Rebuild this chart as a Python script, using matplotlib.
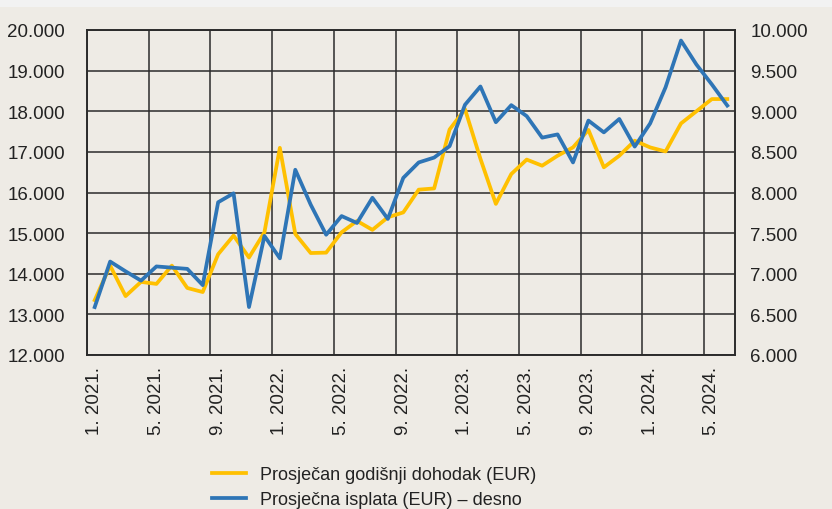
import matplotlib.pyplot as plt
from matplotlib.ticker import FuncFormatter, FixedLocator

# monthly data 1.2021 - 6.2024
months = [f"{m}. {y}." for y in (2021, 2022, 2023, 2024) for m in range(1, 13)][:42]

income = [13350, 14200, 13450, 13800, 13750, 14200, 13650, 13550, 14480, 14940,
          14400, 15020, 17100, 14980, 14510, 14520, 15020, 15300, 15080, 15390,
          15510, 16070, 16100, 17550, 18050, 16830, 15720, 16455, 16810, 16660,
          16905, 17110, 17540, 16620, 16905, 17275, 17110, 17010, 17700, 18000,
          18300, 18300]

payout = [6590, 7150, 7030, 6915, 7090, 7075, 7060, 6860, 7880, 7990,
          6590, 7465, 7190, 8280, 7850, 7480, 7710, 7625, 7935, 7675,
          8180, 8370, 8430, 8570, 9080, 9305, 8865, 9075, 8940, 8675,
          8715, 8370, 8885, 8740, 8905, 8565, 8850, 9295, 9870, 9575,
          9330, 9070]

label_income = "Prosječan godišnji dohodak (EUR)"
label_payout = "Prosječna isplata (EUR) – desno"

BG = "#eeebe5"
YELLOW = "#ffc000"
BLUE = "#2e75b6"
GRID = "#2b2b2b"

plt.rcParams['font.family'] = ['Liberation Sans', 'DejaVu Sans']


def thousands(v, pos):
    return f"{int(v):,}".replace(",", ".")


fig = plt.figure(figsize=(8.32, 5.10), dpi=100, facecolor=BG)
# light strip across the top
fig.patches.append(plt.Rectangle((0, 1 - 8 / 510), 1, 8 / 510, transform=fig.transFigure,
                                 facecolor="#f2f2f2", edgecolor="none"))

ax = fig.add_axes([87 / 832, 1 - 356 / 510, (735 - 87) / 832, (356 - 31) / 510])
ax.set_facecolor(BG)
ax2 = ax.twinx()

x = list(range(len(months)))
l1, = ax.plot(x, income, color=YELLOW, lw=2.7, label=label_income, zorder=3)
l2, = ax2.plot(x, payout, color=BLUE, lw=2.7, label=label_payout, zorder=3)

ax.set_xlim(-0.5, len(months) - 0.5)
ax.set_ylim(12000, 20000)
ax2.set_ylim(6000, 10000)
ax.set_yticks(range(12000, 20001, 1000))
ax2.set_yticks(range(6000, 10001, 500))
ax.yaxis.set_major_formatter(FuncFormatter(thousands))
ax2.yaxis.set_major_formatter(FuncFormatter(thousands))

tick_pos = x[::4]
ax.set_xticks(tick_pos)
ax.set_xticklabels([months[i] for i in tick_pos], rotation=90)
ax.xaxis.set_minor_locator(FixedLocator([p - 0.5 for p in tick_pos]))

ax.grid(axis='y', color=GRID, lw=1.1)
ax.grid(axis='x', which='minor', color=GRID, lw=1.1)
ax.set_axisbelow(True)

for a in (ax, ax2):
    for s in a.spines.values():
        s.set_color(GRID)
        s.set_linewidth(1.2)
    a.tick_params(length=0, labelsize=13.5, colors="#222222")
ax.tick_params(axis='x', which='both', length=0, pad=8)
ax.tick_params(axis='y', pad=16)
ax2.tick_params(axis='y', pad=11)

fig.legend(handles=[l1, l2], loc='upper left', bbox_to_anchor=(212 / 832, 1 - 467 / 510),
           frameon=False, fontsize=13, handlelength=1.9, handletextpad=0.75,
           labelspacing=0.45, borderpad=0, borderaxespad=0, labelcolor="#222222")

fig.savefig("out.png", dpi=100, facecolor=BG)
